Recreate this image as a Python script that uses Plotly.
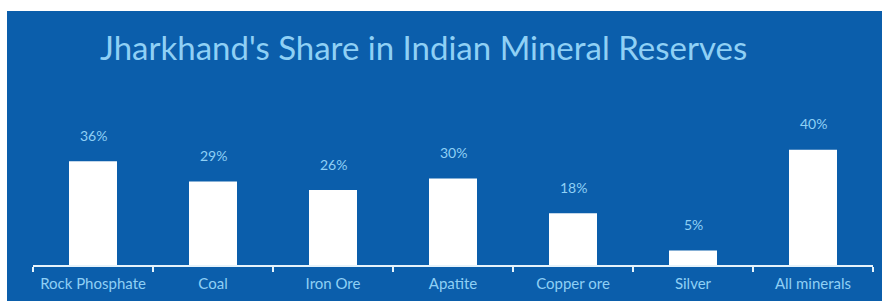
import plotly.graph_objects as go

categories = ["Rock Phosphate", "Coal", "Iron Ore", "Apatite", "Copper ore", "Silver", "All minerals"]
shares = [36, 29, 26, 30, 18, 5, 40]
title_text = "Jharkhand's Share in Indian Mineral Reserves"

W, H = 882, 301
BG = "#0b5eab"
TXT = "#8fd0f5"

fig = go.Figure()
fig.add_trace(go.Bar(x=categories, y=shares, width=0.4,
                     marker=dict(color="white", line=dict(width=0)),
                     hoverinfo="skip"))

for c, v in zip(categories, shares):
    fig.add_annotation(x=c, y=v, text=f"{v}%", showarrow=False, yshift=26,
                       font=dict(family="Lato", size=14, color=TXT),
                       xref="x", yref="y")

fig.add_annotation(x=423 / W, y=1 - 47 / H, xref="paper", yref="paper",
                   text=title_text, showarrow=False, xanchor="center", yanchor="middle",
                   font=dict(family="Lato", size=33, color=TXT))

fig.add_shape(type="rect", xref="paper", yref="paper", x0=7 / W, x1=1, y0=0, y1=1 - 11 / H,
              fillcolor=BG, line=dict(width=0), layer="below")

fig.update_layout(
    width=W, height=H, margin=dict(l=0, r=0, t=0, b=0),
    paper_bgcolor="white", plot_bgcolor="rgba(0,0,0,0)",
    showlegend=False, bargap=0.6,
    xaxis=dict(domain=[33 / W, 873 / W], range=[-0.5, 6.5], showgrid=False, zeroline=False,
               showline=True, linecolor="#e6f3fb", linewidth=2,
               ticks="outside", tickson="boundaries", ticklen=5, tickwidth=2, tickcolor="#e6f3fb",
               ticklabelstandoff=4,
               tickfont=dict(family="Lato", size=15, color=TXT), fixedrange=True),
    yaxis=dict(domain=[1 - 265 / H, 1 - 121 / H], range=[0, 50], showgrid=False, zeroline=False,
               showline=False, showticklabels=False, ticks="", fixedrange=True),
)

fig.write_html("out.html", config={"displayModeBar": False},
               post_script="document.body.style.margin='0';document.body.style.overflow='hidden';")
